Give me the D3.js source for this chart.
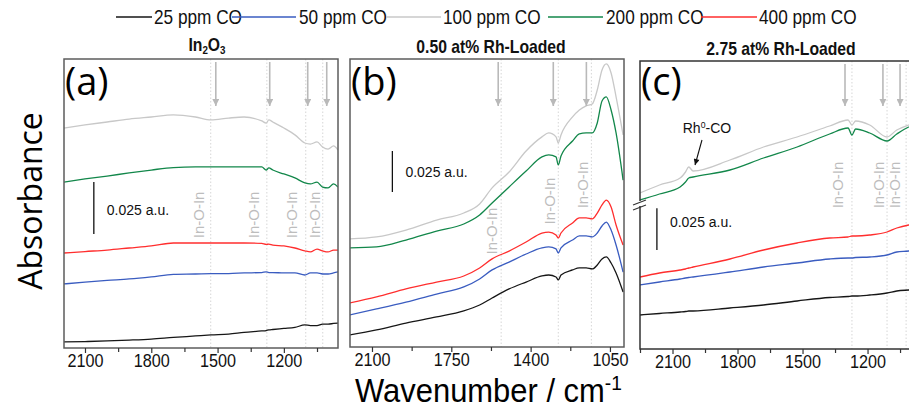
<!DOCTYPE html>
<html><head><meta charset="utf-8">
<script src="https://cdn.jsdelivr.net/npm/d3@7"></script>
<style>body{margin:0;background:#fff}svg{display:block}</style>
</head><body>
<svg id="chart" width="909" height="408"></svg>
<script>
// ---------- DATA ----------
const concentrations = ["25 ppm CO", "50 ppm CO", "100 ppm CO", "200 ppm CO", "400 ppm CO"];
const lineColors = ["#161616", "#3a5cc0", "#c8c8c8", "#12874a", "#ff2e2e"];
const panelLetters = ["(a)", "(b)", "(c)"];
const scaleBarLabel = "0.025 a.u.";
const yAxisTitle = "Absorbance";

// Panel (a) In2O3  (absorbance offsets in mAU)
const wnA  = [2195, 2100, 2000, 1900, 1800, 1700, 1600, 1530, 1450, 1380, 1300, 1280, 1268, 1250, 1200, 1150, 1105, 1080, 1050, 1025, 1000, 975, 955];
const a25  = [2.9, 3.1, 3.4, 3.8, 4.3, 5.1, 5.8, 6.3, 6.7, 7.5, 8.2, 8.4, 8.7, 8.9, 9.4, 9.9, 11.1, 10.8, 10.8, 11.5, 11.5, 11.8, 12.0];
const a50  = [30.8, 31.7, 32.5, 33.2, 34.2, 35.4, 35.6, 35.8, 35.8, 36.1, 36.3, 36.6, 36.3, 36.3, 36.1, 36.1, 35.1, 36.1, 36.1, 35.6, 35.6, 36.1, 36.6];
const a100 = [105.8, 107.3, 108.7, 110.1, 111.1, 112.1, 111.1, 109.7, 110.6, 111.1, 109.2, 108.2, 109.7, 108.7, 105.8, 102.5, 98.6, 98.1, 99.1, 96.7, 95.7, 97.2, 95.2];
const a200 = [79.8, 81.3, 82.7, 84.2, 85.6, 86.8, 87.1, 87.1, 87.1, 87.1, 87.1, 85.6, 86.6, 85.6, 83.7, 81.8, 79.4, 78.9, 79.8, 77.4, 77.0, 78.9, 77.4];
const a400 = [45.7, 46.4, 47.1, 48.1, 49.1, 50.5, 50.5, 50.5, 50.5, 50.5, 50.3, 49.8, 50.0, 49.5, 49.1, 48.1, 46.7, 46.2, 47.6, 46.7, 46.2, 47.1, 47.1];

// Panel (b) 0.50 at% Rh
const wnB  = [2200, 2080, 1950, 1815, 1695, 1625, 1570, 1495, 1420, 1350, 1320, 1288, 1278, 1266, 1215, 1185, 1155, 1128, 1106, 1085, 1066, 1045, 1023, 992];
const b25  = [7.3, 10.4, 14.6, 18.3, 22.0, 25.6, 29.9, 35.4, 39.6, 43.3, 43.9, 42.7, 40.9, 43.9, 47.0, 48.2, 48.2, 47.6, 50.0, 53.7, 54.9, 51.2, 45.1, 33.5];
const b50  = [19.5, 23.2, 27.4, 32.3, 36.6, 41.5, 47.0, 51.8, 56.7, 60.4, 61.0, 59.8, 57.3, 60.4, 65.2, 67.7, 67.7, 67.1, 69.5, 73.8, 76.2, 71.3, 62.2, 45.7];
const b100 = [65.9, 67.1, 71.3, 77.4, 81.7, 87.2, 97.0, 106.7, 119.5, 128.1, 130.5, 128.1, 124.4, 129.3, 140.3, 144.5, 147.0, 148.2, 156.7, 168.9, 172.6, 167.1, 152.5, 129.3];
const b200 = [60.4, 61.0, 65.2, 70.7, 75.0, 80.5, 87.8, 97.6, 107.3, 115.9, 117.1, 115.9, 111.0, 116.5, 125.6, 129.9, 130.5, 130.5, 136.6, 150.0, 152.5, 144.5, 130.5, 101.8];
const b400 = [26.8, 30.5, 35.4, 39.6, 43.3, 48.2, 53.7, 58.5, 64.0, 69.5, 70.1, 68.3, 66.5, 69.5, 75.6, 78.7, 78.7, 78.1, 81.7, 86.6, 89.6, 85.4, 74.4, 62.2];

// Panel (c) 2.75 at% Rh
const wnC  = [2250, 2160, 2065, 2040, 2025, 2005, 1835, 1680, 1525, 1375, 1290, 1272, 1255, 1190, 1110, 1065, 1010, 980];
const c25  = [20.4, 21.3, 22.2, 22.5, 22.8, 22.8, 24.6, 26.4, 28.8, 30.9, 31.5, 31.8, 31.8, 32.4, 33.6, 34.8, 35.4, 35.7];
const c50  = [38.4, 40.2, 42.0, 42.6, 42.9, 43.2, 46.2, 49.2, 51.6, 54.0, 54.6, 54.6, 54.9, 55.2, 56.4, 58.2, 58.8, 59.4];
const c100 = [93.6, 98.4, 102.6, 106.2, 109.2, 106.8, 113.4, 121.2, 127.2, 133.8, 137.4, 134.4, 136.8, 134.4, 127.2, 131.4, 134.4, 135.6];
const c200 = [89.4, 93.0, 97.2, 100.2, 102.6, 103.2, 107.4, 114.6, 121.2, 129.0, 132.6, 128.4, 132.0, 129.6, 124.8, 129.0, 133.2, 134.4];
const c400 = [43.2, 45.6, 47.4, 48.0, 48.6, 49.2, 54.0, 59.4, 63.6, 66.6, 67.2, 67.8, 67.8, 68.4, 70.2, 72.6, 74.4, 75.0];

// tick labels
const ticksA = [2100, 1800, 1500, 1200], minorA = [1950, 1650, 1350, 1050];
const ticksB = [2100, 1750, 1400, 1050], minorB = [1925, 1575, 1225];
const ticksC = [2100, 1800, 1500, 1200], minorC = [2250, 1950, 1650, 1350, 1050];

// In-O-In band annotations (wavenumbers)
const bandLinesA = [1531, 1277, 1101, 1024], bandArrowsA = [1508, 1264, 1092, 1006];
const bandLabelsA = [1585, 1336, 1164, 1060], bandLabelValA = [64, 64, 64, 64];
const bandLinesB = [1530, 1278, 1132], bandArrowsB = [1543, 1300, 1154];
const bandLabelsB = [1574, 1318, 1172], bandLabelValB = [70.7, 89, 98.8];
const bandLinesC = [1272, 1110, 1022], bandArrowsC = [1304, 1129, 1050];
const bandLabelsC = [1336, 1147, 1073], bandLabelValC = [98.4, 98.4, 98.4];

// Rh0-CO annotation in panel (c): label position, arrow start and end (wavenumber, mAU)
const rhLabel = [1941, 129.6], rhArrowFrom = [1964, 125.4], rhArrowTo = [1996, 110.4];
const axisBreakVal = 87.6;

// ---------- LAYOUT ----------
const svg = d3.select("#chart");
const NARROW = 0.82;
const defs = svg.append("defs");
defs.append("marker").attr("id", "grayHead").attr("viewBox", "0 0 10 10")
  .attr("refX", 10).attr("refY", 5).attr("markerWidth", 7).attr("markerHeight", 7)
  .attr("markerUnits", "userSpaceOnUse").attr("orient", "auto")
  .append("path").attr("d", "M0,0 L10,5 L0,10 Z").attr("fill", "#b9b9b9");
defs.append("marker").attr("id", "blackHead").attr("viewBox", "0 0 10 10")
  .attr("refX", 10).attr("refY", 5).attr("markerWidth", 7).attr("markerHeight", 6)
  .attr("markerUnits", "userSpaceOnUse").attr("orient", "auto")
  .append("path").attr("d", "M0,0 L10,5 L0,10 Z").attr("fill", "#111");

function txt(parent, x, y, str, o = {}) {
  const g = parent.append("g")
    .attr("transform", `translate(${x},${y})${o.rot ? ` rotate(${o.rot})` : ""} scale(${o.sx || 1},1)`);
  const t = g.append("text").attr("font-family", o.font || "'Liberation Sans', Arial, sans-serif")
    .attr("font-size", o.size || 14).attr("fill", o.fill || "#000")
    .attr("font-weight", o.weight || "normal").attr("text-anchor", o.anchor || "start");
  if (o.dy) t.attr("dy", o.dy);
  if (Array.isArray(str)) {
    str.forEach(([s, kind]) => {
      const ts = t.append("tspan").text(s);
      if (kind === "sub") ts.attr("font-size", (o.size || 14) * 0.62).attr("baseline-shift", "-25%");
      if (kind === "sup") ts.attr("font-size", (o.size || 14) * 0.62).attr("baseline-shift", "55%");
    });
  } else t.text(str);
  return t;
}

const panels = [
  { wn: wnA, series: [a25, a50, a100, a200, a400], x0: 64, x1: 338, y0: 59, y1: 348, dom: [2195, 955], yMax: 139,
    major: ticksA, minor: minorA, lines: bandLinesA, arrows: bandArrowsA, labs: bandLabelsA, labV: bandLabelValA,
    bar: [2060, 54.8], barTxtDy: 33, frame: "#5c5c5c",
    title: [["In", ""], ["2", "sub"], ["O", ""], ["3", "sub"]], titleX: 207, titleY: 51 },
  { wn: wnB, series: [b25, b50, b100, b200, b400], x0: 350, x1: 624, y0: 59, y1: 347, dom: [2197, 988], yMax: 175.6,
    major: ticksB, minor: minorB, lines: bandLinesB, arrows: bandArrowsB, labs: bandLabelsB, labV: bandLabelValB,
    bar: [2010, 94.5], barTxtDy: 26, frame: "#5c5c5c",
    title: [["0.50 at% Rh-Loaded", ""]], titleX: 491, titleY: 53 },
  { wn: wnC, series: [c25, c50, c100, c200, c400], x0: 640, x1: 915, y0: 61, y1: 349, dom: [2250, 981], yMax: 172.8,
    major: ticksC, minor: minorC, lines: bandLinesC, arrows: bandArrowsC, labs: bandLabelsC, labV: bandLabelValC,
    bar: [2172, 59.4], barTxtDy: 19, frame: "#333",
    title: [["2.75 at% Rh-Loaded", ""]], titleX: 781, titleY: 55 }
];

panels.forEach((p, i) => {
  const x = d3.scaleLinear().domain(p.dom).range([p.x0, p.x1]);
  const y = d3.scaleLinear().domain([0, p.yMax]).range([p.y1, p.y0]);
  const g = svg.append("g");
  const clipId = "clip" + i;
  defs.append("clipPath").attr("id", clipId).append("rect")
    .attr("x", p.x0).attr("y", p.y0).attr("width", p.x1 - p.x0).attr("height", p.y1 - p.y0);

  // dotted band lines
  g.selectAll(".band").data(p.lines).join("line")
    .attr("x1", d => x(d)).attr("x2", d => x(d)).attr("y1", p.y0).attr("y2", p.y1)
    .attr("stroke", "#d6d6d6").attr("stroke-width", 1).attr("stroke-dasharray", "1.5,2");

  // band labels
  p.labs.forEach((w, k) => {
    txt(g, x(w), y(p.labV[k]), "In-O-In", { rot: -90, size: 15, fill: "#bdbdbd", anchor: "middle", dy: "0.36em" });
  });

  // spectra
  const lineGen = d3.line().x((d, k) => x(p.wn[k])).y(d => y(d)).curve(d3.curveMonotoneX);
  const sg = g.append("g").attr("clip-path", `url(#${clipId})`);
  p.series.forEach((s, k) => {
    sg.append("path").datum(s).attr("d", lineGen)
      .attr("fill", "none").attr("stroke", lineColors[k]).attr("stroke-width", 1.3);
  });

  // arrows
  p.arrows.forEach(w => {
    g.append("line").attr("x1", x(w)).attr("x2", x(w)).attr("y1", p.y0 + 3).attr("y2", 106)
      .attr("stroke", "#b9b9b9").attr("stroke-width", 1.6).attr("marker-end", "url(#grayHead)");
  });

  // frame
  g.append("rect").attr("x", p.x0).attr("y", p.y0).attr("width", p.x1 - p.x0).attr("height", p.y1 - p.y0)
    .attr("fill", "none").attr("stroke", p.frame).attr("stroke-width", 1.5);

  // axes
  const ax = g.append("g").attr("transform", `translate(0,${p.y1})`)
    .call(d3.axisBottom(x).tickValues(p.major).tickSize(5).tickPadding(1).tickFormat(d3.format("d")));
  ax.select(".domain").remove();
  ax.selectAll("line").attr("stroke", "#333").attr("stroke-width", 1.2);
  ax.selectAll("text").attr("font-family", "'Liberation Sans', Arial, sans-serif").attr("font-size", 18)
    .attr("fill", "#111").attr("transform", "scale(0.9,1)");
  const mx = g.append("g").attr("transform", `translate(0,${p.y1})`)
    .call(d3.axisBottom(x).tickValues(p.minor).tickSize(4).tickFormat(""));
  mx.select(".domain").remove();
  mx.selectAll("text").remove();
  mx.selectAll("line").attr("stroke", "#333").attr("stroke-width", 1.2);

  // scale bar
  g.append("line").attr("x1", x(p.bar[0])).attr("x2", x(p.bar[0]))
    .attr("y1", y(p.bar[1])).attr("y2", y(p.bar[1] + 25)).attr("stroke", "#111").attr("stroke-width", 1.3);
  txt(g, x(p.bar[0]) + 13, y(p.bar[1] + 25) + p.barTxtDy, scaleBarLabel, { size: 14, fill: "#111" });

  // panel letter
  txt(g, p.x0 + 1, 95, panelLetters[i], { font: "'Open Sans', sans-serif", size: 38, fill: "#000" });

  // title
  txt(svg, p.titleX, p.titleY, p.title, { size: 17.5, weight: "bold", anchor: "middle", sx: 0.9, fill: "#111" });

  // panel (c) extras
  if (i === 2) {
    const yb = y(axisBreakVal);
    g.append("rect").attr("x", p.x0 - 2).attr("y", yb - 2).attr("width", 4).attr("height", 5).attr("fill", "#fff");
    [0, 5].forEach(off => {
      g.append("line").attr("x1", p.x0 - 7).attr("y1", yb + 2 + off).attr("x2", p.x0 + 6).attr("y2", yb - 3 + off)
        .attr("stroke", "#333").attr("stroke-width", 1.1);
    });
    txt(g, x(rhLabel[0]), y(rhLabel[1]), [["Rh", ""], ["0", "sup"], ["-CO", ""]], { size: 14, fill: "#111", anchor: "middle" });
    g.append("line").attr("x1", x(rhArrowFrom[0])).attr("y1", y(rhArrowFrom[1]))
      .attr("x2", x(rhArrowTo[0])).attr("y2", y(rhArrowTo[1]))
      .attr("stroke", "#111").attr("stroke-width", 1.1).attr("marker-end", "url(#blackHead)");
  }
});

// legend
const legendLines = [[116, 152], [232, 296], [386, 441], [548, 603], [701, 757]];
const legendTextX = [154, 299, 443, 606, 759];
concentrations.forEach((c, k) => {
  svg.append("line").attr("x1", legendLines[k][0]).attr("x2", legendLines[k][1]).attr("y1", 17).attr("y2", 17)
    .attr("stroke", lineColors[k]).attr("stroke-width", 1.6);
  txt(svg, legendTextX[k], 24, c, { size: 21, sx: NARROW, fill: "#111" });
});

// axis titles
txt(svg, 42, 201, yAxisTitle, { font: "'Open Sans', sans-serif", size: 32, rot: -90, anchor: "middle", fill: "#000" });
txt(svg, 355, 402, [["Wavenumber / cm", ""], ["-1", "sup"]], { size: 34, sx: 0.91, fill: "#000" });
</script>
</body></html>
